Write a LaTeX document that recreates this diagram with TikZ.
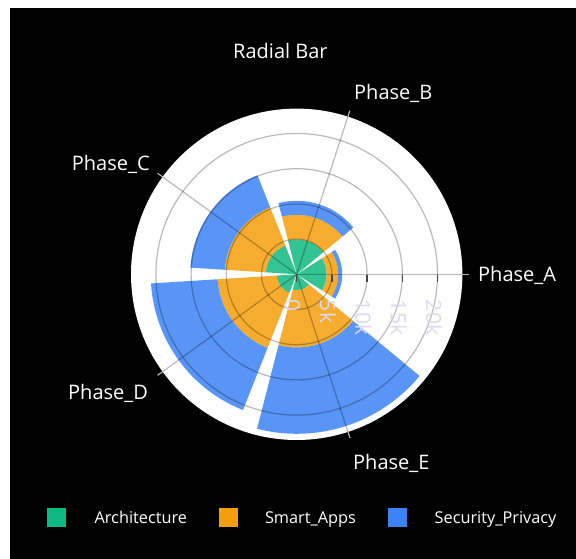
\documentclass[tikz,border=0pt]{standalone}
\usepackage{fontspec}
\setmainfont{Open Sans}
\definecolor{archfill}{RGB}{52,196,148}
\definecolor{appsfill}{RGB}{246,172,47}
\definecolor{secfill}{RGB}{88,149,247}
\definecolor{archkey}{RGB}{16,185,129}
\definecolor{appskey}{RGB}{245,158,11}
\definecolor{seckey}{RGB}{59,130,246}
\definecolor{ticktext}{RGB}{218,218,242}
\definecolor{spoketick}{RGB}{180,180,180}
\definecolor{axistick}{RGB}{68,68,68}

% annular bar: colour, start angle, end angle, inner radius, outer radius
\newcommand{\ringbar}[5]{%
  \fill[#1] (#2:#4) -- (#2:#5) arc[start angle=#2, end angle=#3, radius=#5]
    -- (#3:#4) arc[start angle=#3, end angle=#2, radius=#4] -- cycle;}
% pie bar from the centre: colour, start angle, end angle, radius
\newcommand{\piebar}[4]{%
  \fill[#1] (0,0) -- (#2:#4) arc[start angle=#2, end angle=#3, radius=#4] -- cycle;}

\tikzset{
  gridline/.style={black, opacity=0.27, line width=1.2pt},
  spokeend/.style={spoketick, line width=1.2pt},
  radtick/.style={axistick, line width=1.4pt},
  ticklabel/.style={text=ticktext, font=\fontsize{21}{24}\selectfont, rotate=-90, anchor=west, inner sep=0pt},
  catlabel/.style={text=white, font=\fontsize{20}{24}\selectfont, anchor=base west, inner sep=0pt},
  legendkey/.style={rectangle, minimum size=19pt, inner sep=0pt},
  legendtext/.style={text=white, font=\fontsize{16.3}{20}\selectfont, anchor=base west, inner sep=0pt}
}

\begin{document}
\begin{tikzpicture}[x=1pt,y=1pt]
\useasboundingbox (0,0) rectangle (576,559);
\fill[white] (0,0) rectangle (576,559);
\fill[black] (10,0) rectangle (576,551);

\coordinate (ctr) at (296.7,284.7);

\begin{scope}[shift={(ctr)}]
  % polar background
  \fill[white] (0,0) circle[radius=165.7pt];

  % Architecture (inner)
  \piebar{archfill}{-32.4}{32.4}{30pt}
  \piebar{archfill}{39.6}{104.4}{35pt}
  \piebar{archfill}{111.6}{176.4}{31pt}
  \piebar{archfill}{183.6}{248.4}{20pt}
  \piebar{archfill}{255.6}{320.4}{16pt}

  % Smart_Apps (stacked)
  \ringbar{appsfill}{-32.4}{32.4}{30pt}{41.5pt}
  \ringbar{appsfill}{39.6}{104.4}{35pt}{59.5pt}
  \ringbar{appsfill}{111.6}{176.4}{31pt}{72pt}
  \ringbar{appsfill}{183.6}{248.4}{20pt}{79.3pt}
  \ringbar{appsfill}{255.6}{320.4}{16pt}{73.2pt}

  % Security_Privacy (stacked)
  \ringbar{secfill}{-32.4}{32.4}{41.5pt}{45.5pt}
  \ringbar{secfill}{39.6}{104.4}{59.5pt}{73.5pt}
  \ringbar{secfill}{111.6}{176.4}{72pt}{106.5pt}
  \ringbar{secfill}{183.6}{248.4}{79.3pt}{146pt}
  \ringbar{secfill}{255.6}{320.4}{73.2pt}{159.5pt}

  % radial grid
  \foreach \r in {35.2,70.4,105.6,140.8}
    \draw[gridline] (0,0) circle[radius=\r pt];

  % angular grid and outer ticks
  \foreach \a in {0,72,144,216,288} {
    \draw[gridline] (0,0) -- (\a:165.7pt);
    \draw[spokeend] (\a:165.7pt) -- (\a:172pt);
  }

  % radial axis ticks
  \foreach \x in {0,35.2,70.4,105.6,140.8}
    \draw[radtick] (\x,-1) -- (\x,-8);

  % radial tick labels
  \node[ticklabel] (t0)  at (-4.2,-25.5) {0};
  \node[ticklabel] (t5)  at (31.2,-25.5) {5k};
  \node[ticklabel] (t10) at (66.6,-25.5) {10k};
  \node[ticklabel] (t15) at (102,-25.5) {15k};
  \node[ticklabel] (t20) at (137.4,-25.5) {20k};
\end{scope}

% title and category labels
\node[catlabel] (title) at (233,500.7) {Radial Bar};
\node[catlabel] (pa) at (478,277.5) {Phase\_A};
\node[catlabel] (pb) at (354,459.5) {Phase\_B};
\node[catlabel] (pc) at (71.7,388) {Phase\_C};
\node[catlabel] (pd) at (68,159.5) {Phase\_D};
\node[catlabel] (pe) at (353,89.5) {Phase\_E};

% legend
\node[legendkey, fill=archkey] (k1) at (56.5,41.5) {};
\node[legendtext] (l1) at (94.4,35.5) {Architecture};
\node[legendkey, fill=appskey] (k2) at (228,41.5) {};
\node[legendtext] (l2) at (264.8,35.5) {Smart\_Apps};
\node[legendkey, fill=seckey] (k3) at (397.2,41.5) {};
\node[legendtext] (l3) at (434.5,35.5) {Security\_Privacy};
\end{tikzpicture}
\end{document}
